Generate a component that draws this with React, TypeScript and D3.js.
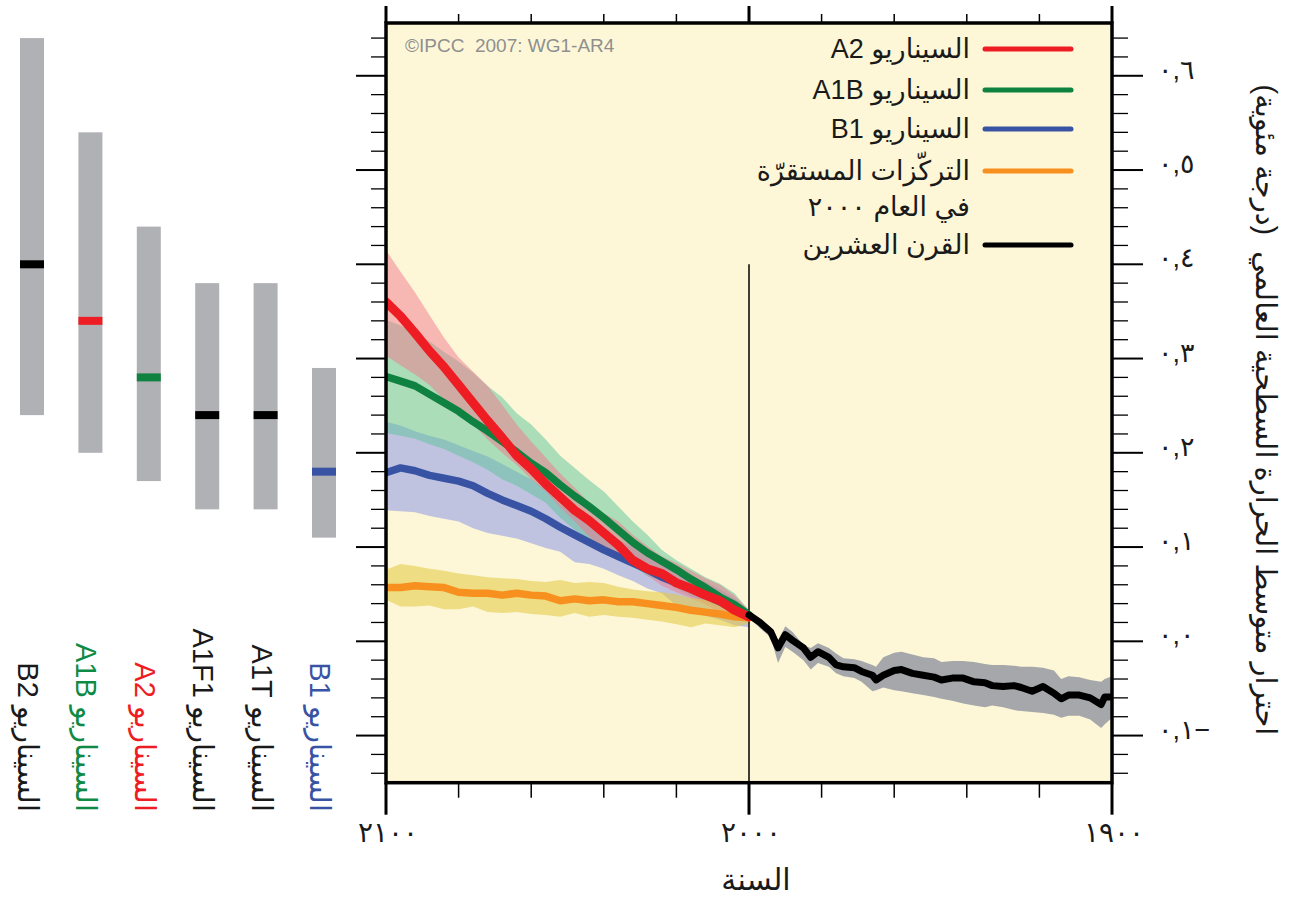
import React from 'react';
import * as d3 from 'd3';

// projection years (left side of the chart is 2100)
const projYears = [2100, 2096, 2092, 2088, 2084, 2080, 2076, 2072, 2068, 2064, 2060, 2056, 2052, 2048, 2044, 2040, 2036, 2032, 2028, 2024, 2020, 2016, 2012, 2008, 2004, 2000];

const a2Mid = [0.360, 0.345, 0.327, 0.308, 0.291, 0.272, 0.253, 0.234, 0.216, 0.197, 0.183, 0.167, 0.153, 0.139, 0.128, 0.115, 0.102, 0.086, 0.077, 0.072, 0.062, 0.056, 0.049, 0.043, 0.033, 0.026];
const a2Hi = [0.415, 0.392, 0.370, 0.346, 0.322, 0.301, 0.286, 0.271, 0.251, 0.230, 0.212, 0.195, 0.178, 0.163, 0.147, 0.136, 0.127, 0.113, 0.101, 0.090, 0.083, 0.075, 0.067, 0.060, 0.049, 0.033];
const a2Lo = [0.303, 0.293, 0.283, 0.272, 0.256, 0.242, 0.230, 0.214, 0.200, 0.187, 0.172, 0.159, 0.142, 0.127, 0.111, 0.097, 0.086, 0.081, 0.070, 0.059, 0.052, 0.046, 0.039, 0.031, 0.025, 0.020];

const a1bMid = [0.281, 0.276, 0.271, 0.262, 0.253, 0.244, 0.233, 0.223, 0.212, 0.201, 0.189, 0.179, 0.166, 0.154, 0.143, 0.131, 0.118, 0.105, 0.094, 0.085, 0.076, 0.066, 0.057, 0.047, 0.039, 0.028];
const a1bHi = [0.341, 0.335, 0.327, 0.318, 0.307, 0.297, 0.285, 0.271, 0.259, 0.242, 0.230, 0.214, 0.197, 0.184, 0.171, 0.159, 0.143, 0.127, 0.113, 0.097, 0.086, 0.077, 0.068, 0.061, 0.051, 0.033];
const a1bLo = [0.221, 0.218, 0.215, 0.209, 0.204, 0.197, 0.190, 0.182, 0.172, 0.165, 0.156, 0.147, 0.131, 0.118, 0.108, 0.098, 0.088, 0.080, 0.069, 0.064, 0.056, 0.048, 0.042, 0.036, 0.030, 0.023];

const b1Mid = [0.179, 0.184, 0.181, 0.176, 0.173, 0.170, 0.165, 0.157, 0.150, 0.144, 0.138, 0.130, 0.121, 0.113, 0.105, 0.097, 0.090, 0.083, 0.076, 0.068, 0.062, 0.056, 0.049, 0.042, 0.034, 0.026];
const b1Hi = [0.233, 0.229, 0.223, 0.218, 0.214, 0.208, 0.202, 0.196, 0.188, 0.180, 0.172, 0.161, 0.145, 0.137, 0.125, 0.118, 0.108, 0.100, 0.092, 0.086, 0.078, 0.069, 0.063, 0.055, 0.046, 0.031];
const b1Lo = [0.139, 0.138, 0.137, 0.133, 0.130, 0.127, 0.120, 0.115, 0.112, 0.109, 0.104, 0.099, 0.095, 0.084, 0.082, 0.077, 0.070, 0.064, 0.056, 0.051, 0.038, 0.031, 0.027, 0.023, 0.017, 0.015];

const constMid = [0.057, 0.057, 0.059, 0.058, 0.057, 0.052, 0.051, 0.051, 0.049, 0.051, 0.049, 0.048, 0.043, 0.045, 0.043, 0.044, 0.042, 0.042, 0.040, 0.038, 0.036, 0.033, 0.031, 0.029, 0.026, 0.025];
const constHi = [0.076, 0.082, 0.080, 0.077, 0.075, 0.072, 0.070, 0.068, 0.067, 0.066, 0.064, 0.063, 0.065, 0.062, 0.063, 0.062, 0.058, 0.055, 0.053, 0.052, 0.050, 0.046, 0.044, 0.038, 0.035, 0.030];
const constLo = [0.044, 0.037, 0.037, 0.038, 0.034, 0.034, 0.037, 0.031, 0.030, 0.031, 0.029, 0.028, 0.026, 0.030, 0.026, 0.028, 0.026, 0.025, 0.023, 0.021, 0.018, 0.015, 0.019, 0.017, 0.015, 0.019];

// 20th century observations
const histYears = [2000, 1997, 1994, 1992, 1990, 1988, 1985, 1983, 1981, 1978, 1976, 1974, 1971, 1969, 1966, 1965, 1963, 1960, 1958, 1955, 1952, 1949, 1947, 1944, 1941, 1938, 1935, 1933, 1930, 1927, 1925, 1922, 1919, 1916, 1914, 1912, 1909, 1906, 1903, 1902, 1900];
const histMid = [0.028, 0.020, 0.010, -0.007, 0.007, 0.001, -0.007, -0.017, -0.011, -0.017, -0.025, -0.027, -0.028, -0.032, -0.036, -0.041, -0.036, -0.031, -0.030, -0.034, -0.036, -0.038, -0.041, -0.039, -0.039, -0.043, -0.044, -0.047, -0.048, -0.047, -0.049, -0.053, -0.048, -0.055, -0.061, -0.057, -0.057, -0.060, -0.067, -0.059, -0.059];
const histHi = [0.031, 0.023, 0.015, 0.001, 0.016, 0.010, -0.004, -0.007, -0.002, -0.007, -0.013, -0.018, -0.019, -0.021, -0.025, -0.027, -0.017, -0.012, -0.011, -0.014, -0.017, -0.018, -0.022, -0.021, -0.021, -0.022, -0.024, -0.025, -0.025, -0.026, -0.027, -0.027, -0.028, -0.031, -0.040, -0.037, -0.038, -0.041, -0.043, -0.040, -0.037];
const histLo = [0.025, 0.014, 0.004, -0.023, -0.006, -0.011, -0.020, -0.030, -0.023, -0.027, -0.034, -0.037, -0.039, -0.043, -0.053, -0.052, -0.049, -0.052, -0.053, -0.055, -0.057, -0.059, -0.061, -0.063, -0.066, -0.068, -0.070, -0.068, -0.070, -0.073, -0.074, -0.075, -0.076, -0.078, -0.081, -0.079, -0.079, -0.083, -0.092, -0.088, -0.081];

// likely ranges at 2100 (left bars)
const barNames = ['السيناريو B2', 'السيناريو A1B', 'السيناريو A2', 'السيناريو A1F1', 'السيناريو A1T', 'السيناريو B1'];
const barLow = [0.24, 0.20, 0.17, 0.14, 0.14, 0.11];
const barHigh = [0.64, 0.54, 0.44, 0.38, 0.38, 0.29];
const barBest = [0.40, 0.34, 0.28, 0.24, 0.24, 0.18];
const barColors = ['#000000', '#ee1d24', '#0f8140', '#000000', '#000000', '#3853a4'];
const barLabelColors = ['#1a1a1a', '#0f8a44', '#ee1d24', '#1a1a1a', '#1a1a1a', '#3853a4'];

const yTicks = [-0.1, 0, 0.1, 0.2, 0.3, 0.4, 0.5, 0.6];
const yTickLabels = ['−٠,١', '٠,٠', '٠,١', '٠,٢', '٠,٣', '٠,٤', '٠,٥', '٠,٦'];
const xTicks = [2100, 2000, 1900];
const xTickLabels = ['٢١٠٠', '٢٠٠٠', '١٩٠٠'];

const legendLines = [['السيناريو A2'], ['السيناريو A1B'], ['السيناريو B1'], ['التركّزات المستقرّة', 'في العام ٢٠٠٠'], ['القرن العشرين']];
const legendColors = ['#ee1d24', '#0f8140', '#3853a4', '#f7901e', '#000000'];
const legendRows = [49, 90, 129, 171, 245];

const FONT = '"Liberation Sans", "DejaVu Sans", Arial, sans-serif';

export default function App() {
  const W = 1289;
  const H = 900;
  const L = 386, R = 1112, T = 23, B = 782.7;

  const x = d3.scaleLinear().domain([2100, 1900]).range([L, R]);
  const y = d3.scaleLinear().domain([-0.15, 0.656]).range([B, T]);

  const band = (years: number[], lo: number[], hi: number[]) =>
    d3.area<number>()
      .x((d) => x(d))
      .y0((_, i) => y(lo[i]))
      .y1((_, i) => y(hi[i]))(years) || '';
  const line = (years: number[], vals: number[]) =>
    d3.line<number>()
      .x((d) => x(d))
      .y((_, i) => y(vals[i]))(years) || '';

  const bands = [
    { lo: b1Lo, hi: b1Hi, fill: '#8390e8', op: 0.5 },
    { lo: a1bLo, hi: a1bHi, fill: '#5cc49c', op: 0.5 },
    { lo: a2Lo, hi: a2Hi, fill: '#f1788e', op: 0.5 },
    { lo: constLo, hi: constHi, fill: '#e1c83c', op: 0.55 },
  ];
  const lines = [
    { v: constMid, c: '#f7901e', w: 7.5 },
    { v: b1Mid, c: '#3853a4', w: 7.5 },
    { v: a1bMid, c: '#0f8140', w: 7.5 },
    { v: a2Mid, c: '#ee1d24', w: 9 },
  ];

  const xb = d3.scaleBand<number>().domain(d3.range(barNames.length)).range([20, 336]).paddingInner(0.589).paddingOuter(0);

  const yMinor = d3.range(-7, 33).map((k) => k * 0.02).filter((v) => Math.abs((v * 10) - Math.round(v * 10)) > 1e-6);
  const xMinor = d3.range(1920, 2100, 20).filter((v) => v !== 2000);

  return (
    <svg width={W} height={H} style={{ position: 'absolute', left: 0, top: 0, background: '#fff' }} fontFamily={FONT}>
      <defs>
        <clipPath id="plotClip">
          <rect x={L} y={T} width={R - L} height={B - T} />
        </clipPath>
      </defs>

      {/* left bars */}
      {barNames.map((n, i) => (
        <g key={n}>
          <rect x={xb(i)} y={y(barHigh[i])} width={xb.bandwidth()} height={y(barLow[i]) - y(barHigh[i])} fill="#b0b1b4" />
          <rect x={xb(i)} y={y(barBest[i]) - 4} width={xb.bandwidth()} height={8} fill={barColors[i]} />
          <text
            transform={`translate(${(xb(i) as number) - 2},812) rotate(90)`}
            direction="rtl"
            textAnchor="start"
            fontSize={29}
            fill={barLabelColors[i]}
          >
            {n}
          </text>
        </g>
      ))}

      {/* plot background */}
      <rect x={L} y={T} width={R - L} height={B - T} fill="#fdf7d7" />

      <g clipPath="url(#plotClip)">
        {bands.map((b, i) => (
          <path key={i} d={band(projYears, b.lo, b.hi)} fill={b.fill} fillOpacity={b.op} />
        ))}
        <path d={band(histYears, histLo, histHi)} fill="#a5a7aa" />
        <line x1={x(2000)} x2={x(2000)} y1={y(0.4)} y2={B} stroke="#000" strokeWidth={1.5} />
        {lines.map((l, i) => (
          <path key={i} d={line(projYears, l.v)} fill="none" stroke={l.c} strokeWidth={l.w} strokeLinejoin="round" strokeLinecap="round" />
        ))}
        <path d={line(histYears, histMid)} fill="none" stroke="#000" strokeWidth={7} strokeLinejoin="round" strokeLinecap="round" />
      </g>

      {/* frame */}
      <rect x={L} y={T} width={R - L} height={B - T} fill="none" stroke="#000" strokeWidth={3.5} />

      {/* y ticks left & right */}
      {yTicks.map((t) => (
        <g key={t}>
          <line x1={L - 30} x2={L} y1={y(t)} y2={y(t)} stroke="#000" strokeWidth={2} />
          <line x1={R} x2={R + 31} y1={y(t)} y2={y(t)} stroke="#000" strokeWidth={2} />
        </g>
      ))}
      {yMinor.map((t) => (
        <g key={t}>
          <line x1={L - 15} x2={L} y1={y(t)} y2={y(t)} stroke="#000" strokeWidth={1.3} />
          <line x1={R} x2={R + 16} y1={y(t)} y2={y(t)} stroke="#000" strokeWidth={1.3} />
        </g>
      ))}
      {yTicks.map((t, i) => (
        <text key={t} x={1158} y={y(t) + 3} direction="rtl" textAnchor="end" fontSize={27} letterSpacing={4} fill="#1a1a1a">
          {yTickLabels[i]}
        </text>
      ))}

      {/* x ticks top & bottom */}
      {xTicks.map((t) => (
        <g key={t}>
          <line x1={x(t)} x2={x(t)} y1={T} y2={T - 17} stroke="#000" strokeWidth={3} />
          <line x1={x(t)} x2={x(t)} y1={B} y2={B + 32} stroke="#000" strokeWidth={3} />
        </g>
      ))}
      {xMinor.map((t) => (
        <g key={t}>
          <line x1={x(t)} x2={x(t)} y1={T} y2={T - 9} stroke="#000" strokeWidth={1.5} />
          <line x1={x(t)} x2={x(t)} y1={B} y2={B + 15} stroke="#000" strokeWidth={1.5} />
        </g>
      ))}
      {xTicks.map((t, i) => (
        <text key={t} x={x(t) + 2} y={842} textAnchor="middle" fontSize={28} letterSpacing={3} fill="#1a1a1a">
          {xTickLabels[i]}
        </text>
      ))}

      {/* axis titles */}
      <text x={756} y={890} textAnchor="middle" fontSize={30} direction="rtl" fill="#1a1a1a">السنة</text>
      <text transform="translate(1256,410) rotate(90)" textAnchor="middle" direction="rtl" fontSize={29} fill="#1a1a1a" style={{ whiteSpace: 'pre' }}>
        احترار متوسط الحرارة السطحية العالمي  (درجة مئوية)
      </text>

      {/* copyright */}
      <text x={405} y={52} fontSize={19} fill="#8f8f8f" fontFamily='"Liberation Sans", Arial, sans-serif' style={{ whiteSpace: 'pre' }}>
        ©IPCC  2007: WG1-AR4
      </text>

      {/* legend */}
      {legendLines.map((rows, i) => (
        <g key={i}>
          <line x1={985} x2={1071} y1={legendRows[i]} y2={legendRows[i]} stroke={legendColors[i]} strokeWidth={5} strokeLinecap="round" />
          {rows.map((r, j) => (
            <text key={j} x={970} y={legendRows[i] + 9 + j * 36} direction="rtl" textAnchor="start" fontSize={27} fill="#1a1a1a">
              {r}
            </text>
          ))}
        </g>
      ))}
    </svg>
  );
}
